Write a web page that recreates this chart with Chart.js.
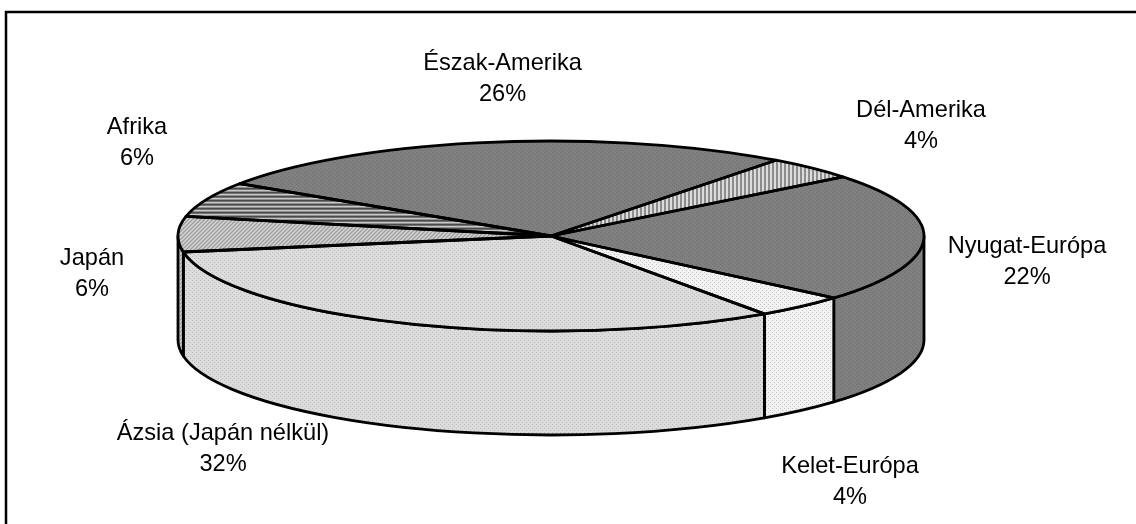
<!DOCTYPE html>
<html><head><meta charset="utf-8">
<style>html,body{margin:0;padding:0;background:#fff;overflow:hidden}canvas{display:block}</style>
<script src="https://cdn.jsdelivr.net/npm/chart.js@4"></script>
</head><body>
<canvas id="c" width="1136" height="524" style="width:1136px;height:524px"></canvas>
<script>
const categories = ['Észak-Amerika','Dél-Amerika','Nyugat-Európa','Kelet-Európa','Ázsia (Japán nélkül)','Japán','Afrika'];
const values = [26,4,22,4,32,6,6];

// Presentation
const RX = 373, RY = 95, DEPTH = 104, K = RY / RX;
const CX = 551, CY = 236;
const labelAt = [[502.5,63],[921,110],[1027,246],[850,466],[223,433],[92,258],[137,127]];
const LINE = 31;

function tile(w, h, paint) {
  const c = document.createElement('canvas'); c.width = w; c.height = h;
  const g = c.getContext('2d'); paint(g); return c;
}
function dots(base, dot, period) {
  return tile(period, period, g => {
    g.fillStyle = base; g.fillRect(0,0,period,period);
    g.fillStyle = dot; g.fillRect(0,0,1,1); g.fillRect(period/2,period/2,1,1);
  });
}
const tiles = [
  dots('#808080','#6e6e6e',4),
  tile(4,4,g=>{g.fillStyle='#dcdcdc';g.fillRect(0,0,4,4);g.fillStyle='#8c8c8c';g.fillRect(0,0,2,4);}),
  dots('#808080','#6e6e6e',4),
  dots('#f2f2f2','#c4c4c4',4),
  dots('#dcdcdc','#bdbdbd',4),
  tile(4,4,g=>{g.fillStyle='#bcbcbc';g.fillRect(0,0,4,4);g.fillStyle='#9c9c9c';for(let i=0;i<4;i++)g.fillRect(i,3-i,1,1);g.fillStyle='#d4d4d4';for(let i=0;i<4;i++)g.fillRect((i+2)%4,3-i,1,1);}),
  tile(4,4,g=>{[['#4a4a4a',0],['#707070',1],['#c8c8c8',2],['#909090',3]].forEach(([col,r])=>{g.fillStyle=col;g.fillRect(0,r,4,1);});})
];
const probe = document.createElement('canvas').getContext('2d');
const flatPatterns = tiles.map(t => probe.createPattern(t,'repeat'));
const squashedPatterns = tiles.map(t => {
  const p = probe.createPattern(t,'repeat');
  p.setTransform(new DOMMatrix().translate(CX,CY).scale(1,1/K).translate(-CX,-CY));
  return p;
});

const pie3d = {
  id: 'pie3d',
  beforeDraw(chart) {
    const ctx = chart.ctx;
    ctx.save();
    ctx.strokeStyle = '#000'; ctx.lineWidth = 2.5;
    ctx.beginPath(); ctx.moveTo(6,524); ctx.lineTo(6,12); ctx.lineTo(1136,12); ctx.stroke();
    ctx.restore();
  },
  beforeDatasetDraw(chart) {
    const ctx = chart.ctx, arcs = chart.getDatasetMeta(0).data;
    ctx.save();
    ctx.lineWidth = 2.8; ctx.strokeStyle = '#000'; ctx.lineJoin = 'round';
    arcs.forEach((arc, i) => {
      for (let n = -1; n <= 2; n++) {
        const a = Math.max(arc.startAngle, 2*Math.PI*n), b = Math.min(arc.endAngle, 2*Math.PI*n + Math.PI);
        if (b <= a) continue;
        ctx.beginPath();
        ctx.ellipse(arc.x, arc.y, RX, RY, 0, a, b);
        ctx.ellipse(arc.x, arc.y + DEPTH, RX, RY, 0, b, a, true);
        ctx.closePath();
        ctx.fillStyle = flatPatterns[i]; ctx.fill(); ctx.stroke();
      }
    });
    ctx.restore();
    ctx.save();
    ctx.translate(CX,CY); ctx.scale(1,K); ctx.translate(-CX,-CY);
  },
  afterDatasetDraw(chart) {
    const ctx = chart.ctx, arcs = chart.getDatasetMeta(0).data;
    ctx.restore();
    ctx.save();
    ctx.lineWidth = 2.8; ctx.strokeStyle = '#000'; ctx.lineJoin = 'round';
    arcs.forEach(arc => {
      ctx.beginPath();
      ctx.moveTo(arc.x, arc.y);
      ctx.ellipse(arc.x, arc.y, RX, RY, 0, arc.startAngle, arc.endAngle);
      ctx.closePath();
      ctx.stroke();
    });
    ctx.restore();
  },
  afterDraw(chart) {
    const ctx = chart.ctx;
    ctx.save();
    ctx.fillStyle = '#000'; ctx.font = '23.6px "Liberation Sans", Arial, sans-serif';
    ctx.textAlign = 'center'; ctx.textBaseline = 'middle';
    categories.forEach((name, i) => {
      const [x, y] = labelAt[i];
      ctx.fillText(name, x, y);
      ctx.fillText(values[i] + '%', x, y + LINE);
    });
    ctx.restore();
  }
};

new Chart(document.getElementById('c'), {
  type: 'pie',
  data: { labels: categories, datasets: [{ data: values, backgroundColor: squashedPatterns, borderWidth: 0, clip: false }] },
  options: {
    responsive: false, animation: false, devicePixelRatio: 1,
    rotation: -56.5, radius: RX,
    layout: { padding: { left: 0, top: 0, right: 1136 - 2*CX, bottom: 524 - 2*CY } },
    plugins: { legend: { display: false }, tooltip: { enabled: false }, title: { display: false } }
  },
  plugins: [pie3d]
});
</script>
</body></html>
